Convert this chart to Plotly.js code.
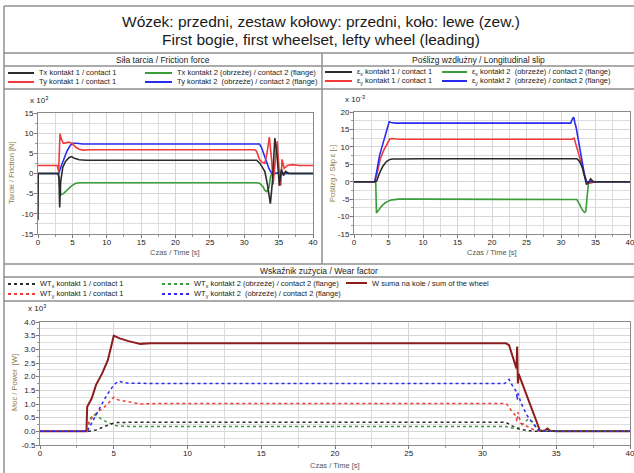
<!DOCTYPE html>
<html><head><meta charset="utf-8">
<script src="https://cdn.plot.ly/plotly-3.0.1.min.js"></script>
<style>html,body{margin:0;padding:0;background:#fff}</style>
</head><body><div id="chart" style="width:634px;height:473px"></div>
<script>
// ---------- texts ----------
const titleLine1 = "Wózek: przedni, zestaw kołowy: przedni, koło: lewe (zew.)";
const titleLine2 = "First bogie, first wheelset, lefty wheel (leading)";
const panelTitles = ["Siła tarcia / Friction force", "Poślizg wzdłużny / Longitudinal slip", "Wskaźnik zużycia / Wear factor"];
const yTitles = ["Tarcie / Friction [N]", "Poślizg / Slip ε [-]", "Moc / Power  [W]"];
const xTitle = "Czas / Time [s]";
const scaleLabels = ["x 10<sup>3</sup>", "x 10<sup>-3</sup>", "x 10<sup>3</sup>"];

const frictionNames = ["Tx kontakt 1 / contact 1", "Ty kontakt 1 / contact 1", "Tx kontakt 2 (obrzeże) / contact 2 (flange)", "Ty kontakt 2  (obrzeże) / contact 2 (flange)"];
const slipNames = ["ε<sub>x</sub> kontakt 1 / contact 1", "ε<sub>y</sub> kontakt 1 / contact 1", "ε<sub>x</sub> kontakt 2  (obrzeże) / contact 2 (flange)", "ε<sub>y</sub> kontakt 2  (obrzeże) / contact 2 (flange)"];
const wearNames = ["WT<sub>x</sub> kontakt 1 / contact 1", "WT<sub>y</sub> kontakt 1 / contact 1", "WT<sub>x</sub> kontakt 2 (obrzeże) / contact 2 (flange)", "WT<sub>y</sub> kontakt 2  (obrzeże) / contact 2 (flange)", "W suma na kole / sum of the wheel"];

// ---------- ticks ----------
const xTicks = [0, 5, 10, 15, 20, 25, 30, 35, 40];
const xTickText = ["0", "5", "10", "15", "20", "25", "30", "35", "40"];
const y1Ticks = [-15, -10, -5, 0, 5, 10, 15];
const y1TickText = ["-15", "-10", "-5", "0", "5", "10", "15"];
const y2Ticks = [-15, -10, -5, 0, 5, 10, 15, 20];
const y2TickText = ["-15", "-10", "-5", "0", "5", "10", "15", "20"];
const y3Ticks = [-0.5, 0, 0.5, 1, 1.5, 2, 2.5, 3, 3.5, 4];
const y3TickText = ["-0.5", "0.0", "0.5", "1.0", "1.5", "2.0", "2.5", "3.0", "3.5", "4.0"];

// ---------- friction force (x10^3 N) ----------
const fTx1_t = [0, 0, 0.03, 2.9, 3.05, 3.15, 3.3, 3.6, 4.0, 4.5, 4.85, 5.3, 6, 7, 10, 20, 31.8, 32.3, 32.6, 33.0, 33.4, 33.8, 34.1, 34.45, 34.8, 35.1, 35.4, 35.7, 36.0, 36.5, 37, 40];
const fTx1_v = [0, -11.5, 0, 0, -1, -8.4, -2, 1.5, 3, 3.9, 4.2, 3.8, 3.4, 3.3, 3.3, 3.3, 3.3, 2.5, 1.5, 0.5, -3, -7.5, -2, 8.8, 4, -3, 1, -0.5, 0.5, 0, 0, 0];
const fTy1_t = [0, 2.8, 3.0, 3.1, 3.2, 3.4, 3.7, 4.0, 4.5, 5.0, 5.5, 6.0, 6.6, 7.5, 10, 31.5, 31.8, 32.2, 32.6, 33.0, 33.3, 33.65, 34.0, 34.2, 34.5, 34.8, 35.1, 35.3, 35.5, 35.8, 36.3, 37, 38, 40];
const fTy1_v = [2, 2, 0.5, 6, 9.9, 8.5, 7.5, 7.6, 7.8, 7.4, 6.5, 6.0, 5.8, 5.9, 5.9, 5.9, 5.5, 3.5, 2.8, 2.5, 5, 9, 3, -2.7, 3, 8, 0, -3, 3.5, 1.3, 2, 2.2, 2, 2];
const fTx2_t = [0, 3.0, 3.15, 3.35, 3.7, 4.2, 4.8, 5.4, 6.0, 10, 31.8, 32.3, 32.7, 33.0, 33.3, 33.6, 33.8, 34.0, 40];
const fTx2_v = [0, 0, -3, -5.3, -5.0, -4.2, -3.2, -2.5, -2.3, -2.3, -2.3, -2.5, -3.2, -4.2, -4.5, -3.5, -1, 0, 0];
const fTy2_t = [0, 3.0, 3.3, 3.7, 4.2, 4.7, 5.1, 5.6, 6.5, 10, 31.5, 32.2, 32.5, 32.8, 33.2, 33.6, 34.0, 34.5, 35, 36, 40];
const fTy2_v = [0, 0, 1.5, 3.5, 5.5, 7.0, 7.5, 7.5, 7.3, 7.3, 7.3, 7.3, 6.5, 5, 3, 1.2, 0, 0, 0.3, 0, 0];

// ---------- longitudinal slip (x10^-3) ----------
const sEx1_t = [0, 3.1, 3.3, 3.7, 4.2, 4.7, 5.2, 5.6, 6.5, 10, 32.3, 32.7, 33.1, 33.4, 33.7, 34.0, 34.3, 34.6, 35, 40];
const sEx1_v = [0, 0, 0.3, 2.5, 4.5, 5.8, 6.4, 6.5, 6.5, 6.6, 6.6, 5.8, 4, 1.5, -0.8, -0.2, 0.8, 0.1, 0, 0];
const sEy1_t = [0, 3.0, 3.3, 3.8, 4.3, 4.8, 5.2, 5.6, 6.5, 10, 31.6, 31.9, 32.4, 32.9, 33.3, 33.7, 34.2, 34.6, 35, 40];
const sEy1_v = [0, 0, 2, 6.5, 9, 11, 12.3, 12.4, 12.2, 12.2, 12.2, 12.5, 9, 5, 2.5, 0, -0.4, -0.3, 0, 0];
const sEx2_t = [0, 3.15, 3.25, 3.5, 4.0, 4.5, 5.0, 5.5, 6.5, 10, 32.3, 32.7, 33.0, 33.4, 33.6, 33.8, 34.0, 40];
const sEx2_v = [0, 0, -9, -8.3, -7.0, -6.1, -5.5, -5.2, -5.0, -5.0, -5.1, -6.5, -7.8, -8.8, -8.5, -4, 0, 0];
const sEy2_t = [0, 3.0, 3.3, 3.7, 4.2, 4.7, 5.1, 5.4, 6, 10, 31.4, 31.7, 31.85, 32.0, 32.2, 32.6, 33.0, 33.4, 33.7, 34, 40];
const sEy2_v = [0, 0, 3, 7.5, 11, 14.5, 17.2, 17.0, 16.8, 16.8, 16.8, 18.2, 18.5, 17, 15.5, 11, 6, 2, 0, 0, 0];

// ---------- wear factor (x10^3 W) ----------
const wTx1_t = [0, 3.3, 3.8, 4.3, 4.8, 5.2, 6, 10, 31.6, 32.0, 32.5, 33.0, 33.5, 40];
const wTx1_v = [0, 0, 0.05, 0.15, 0.27, 0.32, 0.33, 0.33, 0.33, 0.2, 0.08, 0.03, 0, 0];
const wTy1_t = [0, 3.2, 3.25, 3.6, 4.0, 4.5, 5.0, 5.3, 6.0, 6.8, 8, 31.6, 31.9, 32.2, 32.35, 32.4, 32.6, 33.0, 33.5, 34, 40];
const wTy1_v = [0, 0, 0.3, 0.55, 0.75, 0.95, 1.25, 1.15, 1.08, 1.0, 1.02, 1.02, 0.8, 0.6, 0.35, 0.7, 0.3, 0.2, 0.05, 0, 0];
const wTx2_t = [0, 3.2, 3.4, 3.6, 3.9, 4.3, 4.8, 5.2, 6, 10, 31.6, 32.0, 32.4, 32.8, 33.1, 33.4, 33.7, 34.0, 40];
const wTx2_v = [0, 0, 0.45, 0.62, 0.55, 0.4, 0.28, 0.2, 0.18, 0.18, 0.18, 0.12, 0.1, 0.3, 0.45, 0.35, 0.1, 0, 0];
const wTy2_t = [0, 3.2, 3.6, 4.0, 4.5, 5.0, 5.3, 6, 8, 31.5, 31.8, 32.0, 32.3, 32.35, 32.4, 32.6, 33.0, 33.4, 33.8, 34.2, 40];
const wTy2_v = [0, 0, 0.4, 0.8, 1.3, 1.7, 1.83, 1.76, 1.75, 1.75, 1.9, 1.7, 1.45, 1.15, 1.4, 1.05, 0.6, 0.3, 0.05, 0, 0];
const wSum_t = [0, 3.15, 3.2, 3.5, 3.8, 4.2, 4.6, 5.0, 5.4, 6.0, 6.8, 7.5, 10, 31.6, 31.8, 32.1, 32.3, 32.35, 32.4, 32.45, 32.8, 33.1, 33.4, 33.7, 33.9, 34.2, 34.4, 34.6, 35, 40];
const wSum_v = [0, 0, 0.9, 1.2, 1.7, 2.1, 2.6, 3.5, 3.4, 3.3, 3.2, 3.22, 3.22, 3.22, 3.15, 2.6, 2.3, 3.1, 1.75, 2.1, 1.6, 1.2, 0.75, 0.3, 0.02, 0.02, 0.1, 0.02, 0, 0];

// ---------- styles ----------
const C_BLACK = "#2b2b2b", C_RED = "#f23a3a", C_GREEN = "#3a9d3a", C_BLUE = "#2b2bf0", C_DRED = "#8e1c1c";
const FONT = "Liberation Sans, Arial, sans-serif";
const W = 634, H = 473;
const X = p => p / W, Y = p => 1 - p / H;

function line(t, v, color, xa, ya, dash, width) {
  return {type: "scatter", mode: "lines", x: t, y: v, xaxis: xa, yaxis: ya, showlegend: false, hoverinfo: "skip",
    line: {color: color, width: width || 1.6, dash: dash || "solid"}};
}

const traces = [
  line(fTx2_t, fTx2_v, C_GREEN, "x", "y"),
  line(fTy2_t, fTy2_v, C_BLUE, "x", "y"),
  line(fTy1_t, fTy1_v, C_RED, "x", "y"),
  line(fTx1_t, fTx1_v, C_BLACK, "x", "y"),
  line(sEx2_t, sEx2_v, C_GREEN, "x2", "y2"),
  line(sEy1_t, sEy1_v, C_RED, "x2", "y2"),
  line(sEy2_t, sEy2_v, C_BLUE, "x2", "y2"),
  line(sEx1_t, sEx1_v, C_BLACK, "x2", "y2"),
  line(wSum_t, wSum_v, C_DRED, "x3", "y3", "solid", 2),
  line(wTx2_t, wTx2_v, C_GREEN, "x3", "y3", "dot", 1.5),
  line(wTx1_t, wTx1_v, C_BLACK, "x3", "y3", "dot", 1.5),
  line(wTy1_t, wTy1_v, C_RED, "x3", "y3", "dot", 1.5),
  line(wTy2_t, wTy2_v, C_BLUE, "x3", "y3", "dot", 1.5)
];

function xAxis(d0, d1, anchor) {
  return {domain: [X(d0), X(d1)], anchor: anchor, range: [0, 40], tickmode: "array", tickvals: xTicks, ticktext: xTickText,
    showgrid: true, gridcolor: "#d6d6d6", gridwidth: 1, zeroline: false, showline: true, mirror: true,
    linecolor: "#8a8a8a", linewidth: 1, ticks: "outside", ticklen: 3, tickcolor: "#777",
    ticklabelstandoff: -3, ticklabeloverflow: "allow",
    tickfont: {family: FONT, size: 8, color: "#222"},
    minor: {tickmode: "linear", tick0: 0, dtick: 2.5, showgrid: true, gridcolor: "#dddddd", ticks: "outside", ticklen: 2, tickcolor: "#999"},
    fixedrange: true};
}
function yAxis(d0, d1, anchor, range, tv, tt, minorDt) {
  return {domain: [Y(d1), Y(d0)], anchor: anchor, range: range, tickmode: "array", tickvals: tv, ticktext: tt,
    showgrid: true, gridcolor: "#d6d6d6", gridwidth: 1, zeroline: false, showline: true, mirror: true,
    linecolor: "#8a8a8a", linewidth: 1, ticks: "outside", ticklen: 3, tickcolor: "#777",
    ticklabelstandoff: -1, ticklabeloverflow: "allow",
    tickfont: {family: FONT, size: 8, color: "#222"},
    minor: {tickmode: "linear", tick0: 0, dtick: minorDt, showgrid: true, gridcolor: "#dddddd", ticks: "outside", ticklen: 2, tickcolor: "#999"},
    fixedrange: true};
}

// frame shapes
const shapes = [];
function hl(y, x0, x1) { shapes.push({type: "line", xref: "paper", yref: "paper", x0: X(x0), x1: X(x1), y0: Y(y), y1: Y(y), line: {color: "#8f8f8f", width: 1.5}}); }
function vl(x, y0, y1) { shapes.push({type: "line", xref: "paper", yref: "paper", x0: X(x), x1: X(x), y0: Y(y0), y1: Y(y1), line: {color: "#8f8f8f", width: 1.5}}); }
hl(6, 4, 634); hl(53, 4, 634); hl(66, 4, 634); hl(89, 4, 634);
hl(264, 4, 634); hl(277, 4, 634); hl(301, 4, 634);
vl(4, 6, 473); vl(322, 53, 264);

const annotations = [];
function txt(text, x, y, size, color, opts) {
  annotations.push(Object.assign({text: text, xref: "paper", yref: "paper", x: X(x), y: Y(y), showarrow: false,
    xanchor: "center", yanchor: "middle", font: {family: FONT, size: size, color: color}}, opts || {}));
}
txt(titleLine1, 321, 21, 15.5, "#1a1a1a");
txt(titleLine2, 321, 40, 15.5, "#1a1a1a");
txt(panelTitles[0], 163, 60, 8.5, "#1a1a1a");
txt(panelTitles[1], 478, 60, 8.5, "#1a1a1a");
txt(panelTitles[2], 319, 271, 8.5, "#1a1a1a");

// legends (sample line + label)
function legendItem(name, color, dash, x0, x1, y) {
  shapes.push({type: "line", xref: "paper", yref: "paper", x0: X(x0), x1: X(x1), y0: Y(y), y1: Y(y), line: {color: color, width: 2, dash: dash}});
  txt(name, x1 + 3, y, 7.5, "#222", {xanchor: "left"});
}
legendItem(frictionNames[0], C_BLACK, "solid", 8, 34, 73);
legendItem(frictionNames[1], C_RED, "solid", 8, 34, 82);
legendItem(frictionNames[2], C_GREEN, "solid", 145, 172, 73);
legendItem(frictionNames[3], C_BLUE, "solid", 145, 172, 82);
legendItem(slipNames[0], C_BLACK, "solid", 325, 352, 72);
legendItem(slipNames[1], C_RED, "solid", 325, 352, 81);
legendItem(slipNames[2], C_GREEN, "solid", 442, 467, 72);
legendItem(slipNames[3], C_BLUE, "solid", 442, 467, 81);
legendItem(wearNames[0], C_BLACK, "dot", 8, 35, 284);
legendItem(wearNames[1], C_RED, "dot", 8, 35, 294);
legendItem(wearNames[2], C_GREEN, "dot", 162, 189, 284);
legendItem(wearNames[3], C_BLUE, "dot", 162, 189, 294);
legendItem(wearNames[4], C_DRED, "solid", 346, 367, 283);

// axis titles & scale factors
const YT = "#8b7b45", XT = "#555";
txt(yTitles[0], 12, 173, 7.5, YT, {textangle: -90});
txt(yTitles[1], 333, 173, 7.5, YT, {textangle: -90});
txt(yTitles[2], 14, 383, 7.5, YT, {textangle: -90});
txt(xTitle, 175, 252, 7.5, XT);
txt(xTitle, 492, 252, 7.5, XT);
txt(xTitle, 335, 465, 7.5, XT);
txt(scaleLabels[0], 28, 100, 8, "#222", {xanchor: "left"});
txt(scaleLabels[1], 343, 99, 8, "#222", {xanchor: "left"});
txt(scaleLabels[2], 26, 308, 8, "#222", {xanchor: "left"});

const layout = {
  width: W, height: H, margin: {l: 0, r: 0, t: 0, b: 0}, paper_bgcolor: "#fff", plot_bgcolor: "#fff",
  font: {family: FONT}, showlegend: false,
  xaxis: xAxis(38, 313, "y"),
  yaxis: yAxis(113, 234, "x", [-15, 15], y1Ticks, y1TickText, 2.5),
  xaxis2: xAxis(354, 630, "y2"),
  yaxis2: yAxis(112, 234, "x2", [-15, 20], y2Ticks, y2TickText, 2.5),
  xaxis3: xAxis(40, 630, "y3"),
  yaxis3: yAxis(322, 445, "x3", [-0.5, 4], y3Ticks, y3TickText, 0.25),
  shapes: shapes, annotations: annotations
};
Plotly.newPlot("chart", traces, layout, {displayModeBar: false, staticPlot: true});
</script></body></html>
